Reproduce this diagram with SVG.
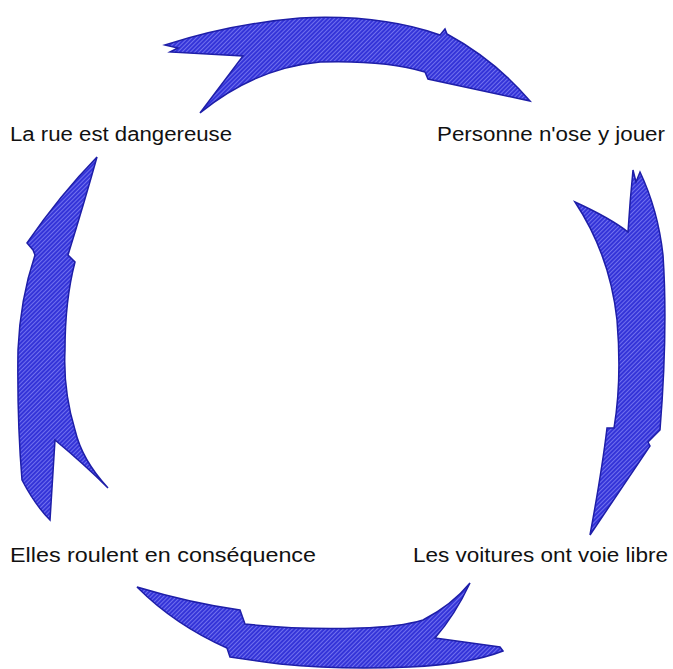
<svg xmlns="http://www.w3.org/2000/svg" width="673" height="669" viewBox="0 0 673 669">
<defs>
<pattern id="hatch" width="3" height="3" patternUnits="userSpaceOnUse" patternTransform="rotate(45)">
<rect width="3" height="3" fill="#3434d8"/>
<rect width="1" height="3" fill="#7070ee"/>
</pattern>
</defs>
<style>
.arr{fill:url(#hatch);stroke:#1e1ea8;stroke-width:1.5;stroke-linejoin:miter}
.lbl{font-family:"Liberation Sans",Arial,sans-serif;font-size:20px;fill:#111}
</style>
<rect width="673" height="669" fill="#fff"/>
<g id="connectors">
<path id="arrow-top" class="arr" d="M165,45 L178,48 L170,52 L243,56 L200,113 Q255,68 320,62 Q385,60 425,72 L428,79 L530,101 Q495,60 447,34 L445,29 L440,35 Q380,14 300,18 Q230,24 165,45 Z"/>
<path id="arrow-right" class="arr" d="M633,170 L636,182 L640,172 Q658,210 663,255 Q668,330 660,430 L648,442 L650,446 L590,535 Q602,470 607,428 L614,428 Q622,380 617,320 Q610,255 575,202 Q610,218 628,232 Q630,200 633,170 Z"/>
<path id="arrow-bottom" class="arr" d="M137,587 Q190,603 240,610 L245,624 Q300,630 360,628 Q400,627 423,620 Q452,605 470,583 Q455,615 435,638 L500,647 L503,651 Q470,664 410,667 Q340,670 280,664 Q250,660 230,657 L227,648 Q175,625 137,587 Z"/>
<path id="arrow-left" class="arr" d="M97,157 Q60,195 27,243 L33,250 L35,255 Q20,300 18,350 Q17,420 22,480 Q35,505 50,520 L55,440 Q85,465 108,488 Q82,460 75,430 Q63,390 65,350 Q65,300 75,262 L68,255 Q85,200 97,157 Z"/>
</g>
<g id="node-rue"><text class="lbl" x="10" y="141" textLength="222" lengthAdjust="spacingAndGlyphs">La rue est dangereuse</text></g>
<g id="node-personne"><text class="lbl" x="437" y="141" textLength="228" lengthAdjust="spacingAndGlyphs">Personne n'ose y jouer</text></g>
<g id="node-voitures"><text class="lbl" x="413" y="562" textLength="255" lengthAdjust="spacingAndGlyphs">Les voitures ont voie libre</text></g>
<g id="node-elles"><text class="lbl" x="10" y="562" textLength="306" lengthAdjust="spacingAndGlyphs">Elles roulent en conséquence</text></g>
</svg>
